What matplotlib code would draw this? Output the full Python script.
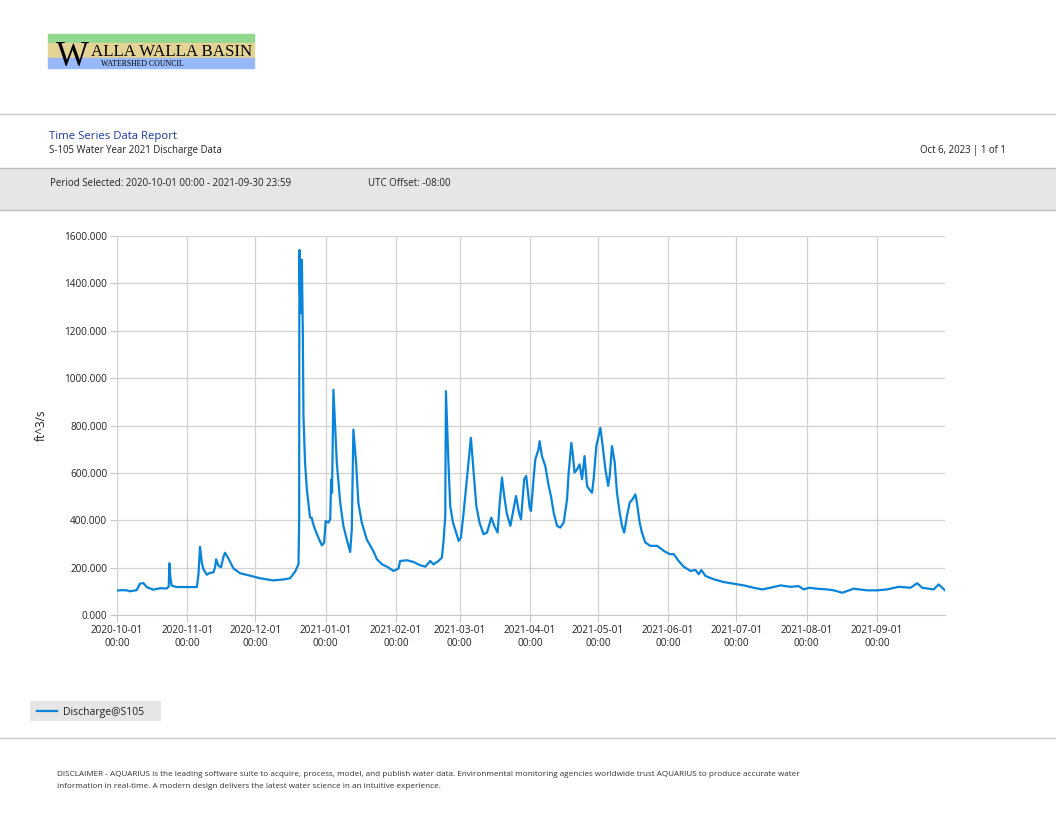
import matplotlib
matplotlib.use('Agg')
import matplotlib.pyplot as plt
import matplotlib.dates as mdates
from matplotlib.patches import Rectangle
from matplotlib.lines import Line2D
import numpy as np
import pandas as pd

# discharge readings, days after 2020-10-01 00:00 and ft^3/s
day_offsets = [
    0, 2.1, 4.3, 5.7, 8.7, 10.1, 11.6, 13.1, 16, 19, 21.9, 22.8, 23.1, 23.5, 24.1,
    26.3, 30.7, 35.2, 35.9, 36.6, 37.4, 38.1, 39.6, 41, 42.5, 43.2, 43.7, 44.7,
    45.9, 46.9, 47.6, 49.1, 51.3, 54.3, 58.7, 63.1, 68.9, 73.4, 76.3, 78.5, 80,
    80.3, 80.4, 80.7, 81, 81.5, 81.9, 82.2, 82.9, 83.7, 85.1, 85.9, 86.3, 87.3,
    88.8, 90.3, 91.3, 92, 93.2, 94, 94.4, 94.8, 95.4, 96.2, 96.9, 98.4, 99.8,
    101.3, 102.8, 103.5, 104.2, 105.4, 106.4, 107.9, 110.1, 113.1, 114.6, 116.8,
    119, 121.9, 124.1, 124.8, 127.8, 130.7, 133.7, 135.9, 138.1, 139.5, 141.7,
    143.2, 143.9, 144.7, 145, 146.1, 146.9, 148.1, 149.5, 150.6, 151.6, 152.8,
    153.8, 155, 156, 157.2, 158.4, 159.8, 161.6, 163.1, 165, 166.3, 167.8, 168.6,
    169.7, 170.7, 171.9, 173.4, 174.5, 175.9, 177.2, 178.1, 179.5, 180.4, 181.9,
    182.5, 183.6, 184.4, 185.8, 186.3, 187.3, 188.8, 190.3, 191.3, 192.5, 194,
    195.4, 196.9, 198.4, 199.1, 200.3, 201, 201.7, 202.8, 203.9, 205, 206.1,
    207.2, 208.2, 209.4, 210.1, 211.3, 212.3, 213.1, 214.1, 215.3, 216.5, 217.2,
    218.2, 219.4, 220.4, 221.6, 222.6, 223.6, 224.8, 226, 227.2, 228.5, 229.2,
    230.4, 231.4, 232.9, 235.1, 238.1, 241, 243.6, 245.4, 247.6, 249.8, 252.8,
    255, 256.4, 257.6, 259.4, 263, 267.5, 271.9, 276.3, 280.7, 284.4, 288, 292.5,
    296.9, 300.5, 302.7, 305, 308.6, 313, 316, 319.7, 324.8, 330.7, 335.1, 339.5,
    344.6, 349.8, 352.7, 355, 360, 362.2, 364.9,
]
discharge = [
    103, 105, 104, 100, 105, 132, 135, 118, 107, 113, 112, 120, 218, 160, 124,
    118, 118, 118, 170, 288, 220, 193, 170, 178, 180, 200, 235, 208,
    202, 245, 263, 239, 197, 176, 166, 155, 146, 150, 155, 183, 214,
    400, 1541, 1350, 1274, 1499, 1204, 839, 642, 530, 411, 410, 390, 361,
    326, 294, 305, 397, 390, 404, 572, 516, 951, 783, 642, 474, 376,
    319, 266, 361, 783, 642, 474, 390, 319, 268, 235, 214,
    204, 186, 196, 228, 231, 224, 210, 204, 228, 214, 228,
    242, 306, 418, 945, 643, 460, 390, 348, 313, 327, 432,
    530, 643, 748, 601, 460, 390, 341, 348, 411, 376, 348, 460,
    580, 502, 425, 376, 432, 502, 432, 404, 573, 587, 453,
    439, 573, 657, 699, 734, 671, 629, 545, 502, 432, 376,
    369, 390, 488, 601, 727, 671, 601, 615, 636, 573, 671,
    545, 530, 516, 573, 713, 755, 790, 713, 615, 545, 587,
    713, 643, 516, 432, 376, 348, 418, 474, 488, 509, 474,
    390, 348, 306, 292, 292, 271, 257, 257, 228, 204, 186,
    190, 172, 190, 165, 151, 139, 132, 125, 115, 108, 115, 125,
    119, 122, 108, 115, 111, 108, 104, 94, 111, 104, 104, 108,
    119, 115, 134, 115, 108, 129, 105,
]
series_name = 'Discharge@S105'
y_ticks = [0, 200, 400, 600, 800, 1000, 1200, 1400, 1600]

W, H = 1056, 816
blue = '#0a84d8'
plt.rcParams['font.family'] = ['Open Sans', 'DejaVu Sans']


def fx(x):
    return x / W


def fy(y):
    return 1 - y / H


fig = plt.figure(figsize=(W / 100, H / 100), dpi=100)

# logo
fig.add_artist(Rectangle((fx(48), fy(43)), fx(254) - fx(48), fy(34) - fy(43), color='#93d88f'))
fig.add_artist(Rectangle((fx(48), fy(58)), fx(254) - fx(48), fy(43) - fy(58), color='#e3d394'))
fig.add_artist(Rectangle((fx(48), fy(68)), fx(254) - fx(48), fy(58) - fy(68), color='#97b9f9'))
fig.text(fx(56), fy(66), 'W', family='Liberation Serif', fontsize=25, va='baseline', color='black')
fig.text(fx(91), fy(56), 'ALLA WALLA BASIN', family='Liberation Serif', fontsize=12.2,
         va='baseline', color='black')
fig.text(fx(101), fy(66), 'WATERSHED COUNCIL', family='Liberation Serif', fontsize=5.6,
         va='baseline', color='black')

# header
fig.add_artist(Line2D([0, 1], [fy(114), fy(114)], color='#c8c8c8', lw=1))
fig.text(fx(49), fy(136), 'Time Series Data Report', fontsize=8.2, color='#1d3c9c', va='center')
fig.text(fx(49), fy(150), 'S-105 Water Year 2021 Discharge Data', fontsize=6.9, color='#222222',
         va='center')
fig.text(fx(1006), fy(150), 'Oct 6, 2023 | 1 of 1', fontsize=6.9, color='#222222', va='center',
         ha='right')
fig.add_artist(Rectangle((0, fy(210)), 1, fy(168) - fy(210), facecolor='#e6e6e6',
                         edgecolor='none'))
fig.add_artist(Line2D([0, 1], [fy(168), fy(168)], color='#bdbdbd', lw=1))
fig.add_artist(Line2D([0, 1], [fy(210), fy(210)], color='#bdbdbd', lw=1))
fig.text(fx(50), fy(183.5), 'Period Selected: 2020-10-01 00:00 - 2021-09-30 23:59', fontsize=7,
         color='#222222', va='center')
fig.text(fx(368), fy(183.5), 'UTC Offset: -08:00', fontsize=7, color='#222222', va='center')

# chart
ax = fig.add_axes([fx(117), fy(615), fx(945) - fx(117), fy(236) - fy(615)])
dates = pd.Timestamp('2020-10-01') + pd.to_timedelta(np.array(day_offsets), unit='D')
ax.plot(dates, discharge, color=blue, lw=1.6, label=series_name)
ax.set_xlim(pd.Timestamp('2020-10-01'), pd.Timestamp('2021-09-30 23:59'))
ax.set_ylim(0, 1600)
ax.set_yticks(y_ticks)
ax.set_yticklabels(['%.3f' % v for v in y_ticks])
ax.xaxis.set_major_locator(mdates.MonthLocator())
ax.xaxis.set_major_formatter(mdates.DateFormatter('%Y-%m-%d\n%H:%M'))
ax.grid(True, color='#d2d2d2', lw=0.9)
ax.set_axisbelow(True)
for s in ['top', 'right', 'left']:
    ax.spines[s].set_visible(False)
ax.spines['bottom'].set_color('#c8c8c8')
ax.tick_params(axis='both', length=5, color='#c8c8c8', labelsize=7.2, labelcolor='#222222', pad=2)
for lbl in ax.get_xticklabels():
    lbl.set_linespacing(1.3)
ax.set_ylabel('ft^3/s', fontsize=8.5, color='#222222', labelpad=12)

# legend
fig.add_artist(Rectangle((fx(30), fy(721)), fx(161) - fx(30), fy(701) - fy(721),
                         facecolor='#e6e6e6', edgecolor='none'))
fig.add_artist(Line2D([fx(37), fx(57)], [fy(711), fy(711)], color=blue, lw=1.6))
fig.text(fx(63), fy(712), series_name, fontsize=7.5, color='#222222', va='center')

# footer
fig.add_artist(Line2D([0, 1], [fy(738), fy(738)], color='#c8c8c8', lw=1))
fig.text(fx(57), fy(775), 'DISCLAIMER - AQUARIUS is the leading software suite to acquire, process, model, '
         'and publish water data. Environmental monitoring agencies worldwide trust AQUARIUS to '
         'produce accurate water', fontsize=5.9, color='#333333', va='center')
fig.text(fx(57), fy(786), 'information in real-time. A modern design delivers the latest water science in '
         'an intuitive experience.', fontsize=5.9, color='#333333', va='center')

fig.savefig('out.png', dpi=100)
